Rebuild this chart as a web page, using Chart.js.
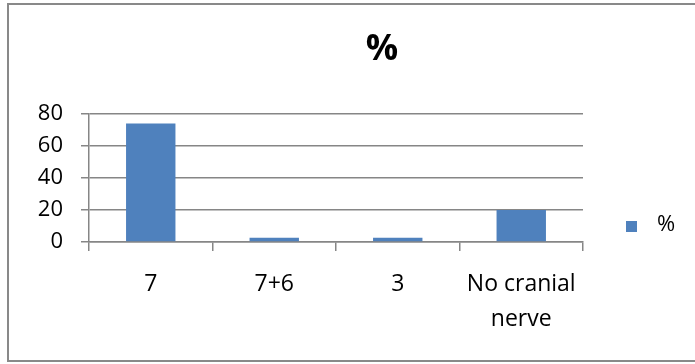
<!DOCTYPE html>
<html>
<head>
<meta charset="utf-8">
<style>
  html, body { margin: 0; padding: 0; background: #fff; }
  #wrap { width: 695px; height: 364px; }
</style>
<script src="https://cdn.jsdelivr.net/npm/chart.js@4.4.1/dist/chart.umd.min.js"></script>
</head>
<body>
<div id="wrap"><canvas id="c" width="695" height="364"></canvas></div>
<script>
// Cranial nerve involvement, share of cases (%)
const categories = ['7', '7+6', '3', ['No cranial', 'nerve']];
const percentValues = [74, 2.6, 2.6, 20];
const yTicks = [0, 20, 40, 60, 80];
const seriesName = '%';
const chartTitle = '%';

const FONT = "'Open Sans', 'Liberation Sans', sans-serif";
const BAR_BLUE = '#4f81bd';
const AXIS_GREY = '#868686';

// Outer frame, title and legend key drawn straight onto the canvas
const decorations = {
  id: 'decorations',
  beforeDraw(chart) {
    const ctx = chart.ctx;
    ctx.save();
    ctx.fillStyle = '#ffffff';
    ctx.fillRect(0, 0, chart.width, chart.height);
    ctx.strokeStyle = '#898989';
    ctx.lineWidth = 2;
    ctx.strokeRect(8, 4, chart.width + 10, 357);
    ctx.restore();
  },
  afterDraw(chart) {
    const ctx = chart.ctx;
    ctx.save();
    ctx.fillStyle = '#000';
    ctx.textBaseline = 'middle';
    ctx.textAlign = 'center';
    ctx.font = 'bold 36px ' + FONT;
    ctx.fillText(chartTitle, 382, 50);

    const ds = chart.data.datasets[0];
    ctx.fillStyle = ds.backgroundColor;
    ctx.fillRect(626, 221, 11, 11);
    ctx.fillStyle = '#000';
    ctx.textAlign = 'left';
    ctx.font = '22px ' + FONT;
    ctx.fillText(ds.label, 657, 225);
    ctx.restore();
  }
};

new Chart(document.getElementById('c'), {
  type: 'bar',
  data: {
    labels: categories,
    datasets: [{
      label: seriesName,
      data: percentValues,
      backgroundColor: BAR_BLUE,
      borderWidth: 0,
      barPercentage: 0.4,
      categoryPercentage: 1.0
    }]
  },
  options: {
    responsive: false,
    animation: false,
    devicePixelRatio: 1,
    layout: { padding: { top: 114, right: 112, left: 0, bottom: 0 } },
    plugins: {
      legend: { display: false },
      title: { display: false },
      tooltip: { enabled: false }
    },
    scales: {
      x: {
        afterFit(scale) { scale.height = 122; },
        grid: {
          offset: true,
          drawOnChartArea: false,
          drawTicks: true,
          tickLength: 9,
          color: AXIS_GREY,
          lineWidth: 1.5
        },
        border: { display: true, color: AXIS_GREY, width: 1.5 },
        ticks: {
          color: '#000',
          padding: 16,
          font: { family: FONT, size: 23, lineHeight: 1.52 },
          maxRotation: 0,
          autoSkip: false
        }
      },
      y: {
        min: 0,
        max: 80,
        afterFit(scale) { scale.width = 89; },
        afterBuildTicks(scale) { scale.ticks = yTicks.map(v => ({ value: v })); },
        grid: {
          color: AXIS_GREY,
          lineWidth: 1.5,
          drawTicks: true,
          tickLength: 8
        },
        border: { display: true, color: AXIS_GREY, width: 1.5 },
        ticks: {
          color: '#000',
          padding: 18,
          font: { family: FONT, size: 22 }
        }
      }
    }
  },
  plugins: [decorations]
});
</script>
</body>
</html>
